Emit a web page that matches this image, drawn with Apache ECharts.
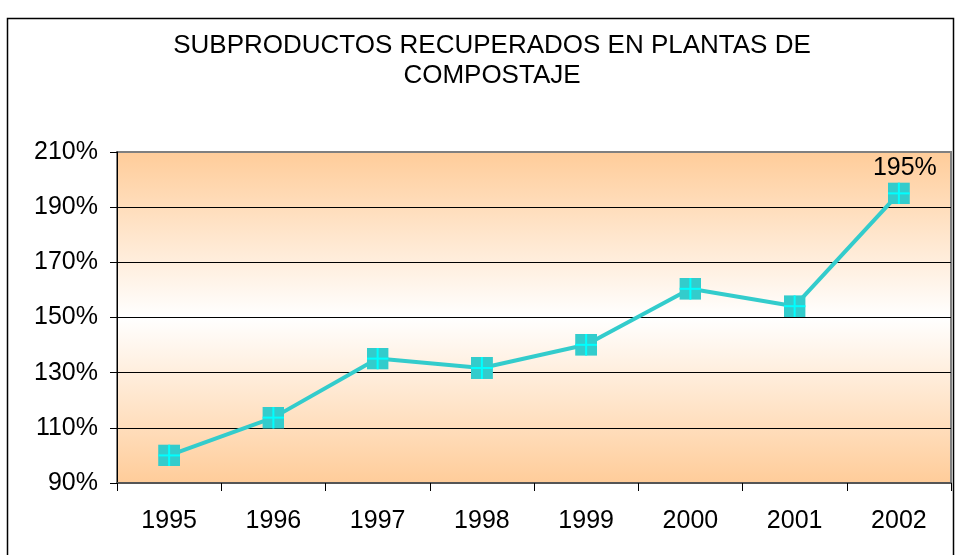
<!DOCTYPE html>
<html>
<head>
<meta charset="utf-8">
<script src="https://cdn.jsdelivr.net/npm/echarts@6/dist/echarts.min.js"></script>
<style>
  html, body { margin: 0; padding: 0; background: #fff; }
  #chart { width: 962px; height: 555px; }
</style>
</head>
<body>
<div id="chart"></div>
<script>
// Años y porcentaje de subproductos recuperados
const years = ['1995', '1996', '1997', '1998', '1999', '2000', '2001', '2002'];
const recovered = [100, 113.7, 135.1, 131.7, 140.1, 160.4, 154.1, 195];
const labelledYear = '2002';

const titleLines = ['SUBPRODUCTOS RECUPERADOS EN PLANTAS DE', 'COMPOSTAJE'];

// Square marker with a light cross drawn through it
const markerSvg =
  '<svg xmlns="http://www.w3.org/2000/svg" width="22" height="22" viewBox="0 0 22 22">' +
  '<rect x="0" y="0" width="22" height="22" fill="#33CCCC"/>' +
  '<rect x="10" y="0" width="2" height="22" fill="#00FFFF"/>' +
  '<rect x="0" y="10" width="22" height="2" fill="#00FFFF"/>' +
  '</svg>';
const markerSymbol = 'image://data:image/svg+xml;charset=utf-8,' + encodeURIComponent(markerSvg);

const FONT = '"Liberation Sans", Arial, sans-serif';

const chart = echarts.init(document.getElementById('chart'), null, { renderer: 'canvas' });

chart.setOption({
  animation: false,
  backgroundColor: '#ffffff',
  title: {
    text: titleLines.join('\n'),
    left: 487,
    top: 26,
    textAlign: 'center',
    textStyle: {
      fontFamily: FONT,
      fontSize: 26,
      fontWeight: 'normal',
      color: '#000',
      lineHeight: 30
    }
  },
  graphic: [{
    type: 'rect',
    shape: { x: 7.5, y: 18.5, width: 946, height: 560 },
    style: { fill: 'none', stroke: '#000', lineWidth: 1.5 },
    silent: true,
    z: -1
  }],
  grid: {
    left: 117,
    right: 11,
    top: 152,
    bottom: 72,
    show: true,
    borderColor: '#808080',
    borderWidth: 2,
    backgroundColor: new echarts.graphic.LinearGradient(0, 0, 0, 1, [
      { offset: 0, color: '#FFCC99' },
      { offset: 0.5, color: '#FFFFFF' },
      { offset: 1, color: '#FFCC99' }
    ])
  },
  xAxis: {
    type: 'category',
    data: years,
    boundaryGap: true,
    axisLine: { show: true, lineStyle: { color: '#555', width: 2 } },
    axisTick: { show: true, alignWithLabel: false, length: 8, lineStyle: { color: '#000', width: 1 } },
    axisLabel: { fontFamily: FONT, fontSize: 25, color: '#000', margin: 26 },
    splitLine: { show: false }
  },
  yAxis: {
    type: 'value',
    min: 90,
    max: 210,
    interval: 20,
    axisLine: { show: true, lineStyle: { color: '#000', width: 1 } },
    axisTick: { show: true, length: 7, lineStyle: { color: '#000', width: 1 } },
    axisLabel: {
      fontFamily: FONT, fontSize: 25, color: '#000', margin: 19,
      formatter: v => v + '%'
    },
    splitLine: {
      show: true,
      lineStyle: {
        color: ['#000', '#000', '#000', '#000', '#000', '#000', '#808080'],
        width: 1
      }
    }
  },
  series: [{
    type: 'line',
    data: recovered.map((v, i) => ({
      value: v,
      label: years[i] === labelledYear ? {
        show: true,
        position: 'top',
        distance: 2,
        offset: [6, 0],
        formatter: '{c}%',
        fontFamily: FONT,
        fontSize: 25,
        color: '#000'
      } : { show: false }
    })),
    symbol: markerSymbol,
    symbolSize: 22,
    showAllSymbol: true,
    lineStyle: { color: '#33CCCC', width: 4 },
    itemStyle: { color: '#33CCCC' },
    z: 3
  }]
});
</script>
</body>
</html>
